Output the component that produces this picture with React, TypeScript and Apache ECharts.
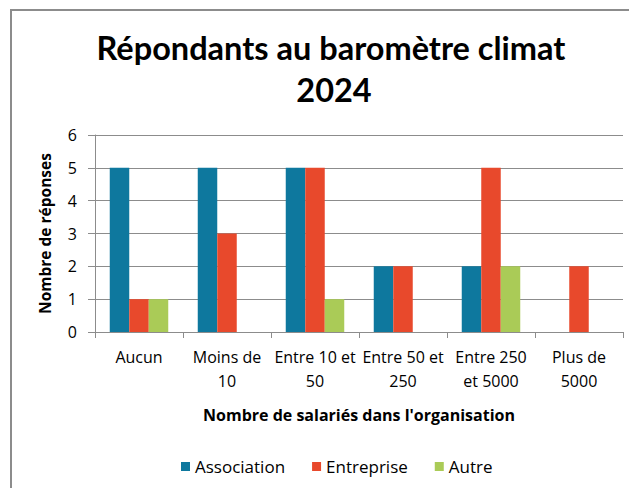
import React, { useEffect, useRef } from "react";
import * as echarts from "echarts";

const categories = ["Aucun", "Moins de 10", "Entre 10 et 50", "Entre 50 et 250", "Entre 250 et 5000", "Plus de 5000"];
const categoryLabels = ["Aucun", "Moins de\n10", "Entre 10 et\n50", "Entre 50 et\n250", "Entre 250\net 5000", "Plus de\n5000"];
const association = [5, 5, 5, 2, 2, 0];
const entreprise = [1, 3, 5, 2, 5, 2];
const autre = [1, 0, 1, 0, 2, 0];
const yTicks = [0, 1, 2, 3, 4, 5, 6];

const FONT = "'Open Sans', Lato, sans-serif";
const TFONT = "Lato, 'Open Sans', sans-serif";

export default function App() {
  const ref = useRef<HTMLDivElement>(null);
  useEffect(() => {
    if (!ref.current) return;
    const chart = echarts.init(ref.current, null, { renderer: "svg" });
    const mk = (name: string, data: number[], color: string) => ({
      name,
      type: "bar",
      data,
      barWidth: 19.5,
      barGap: "0%",
      itemStyle: { color },
    });
    chart.setOption({
      animation: false,
      backgroundColor: "#ffffff",
      textStyle: { fontFamily: FONT },
      title: [
        {
          text: "Répondants au baromètre climat",
          left: 326,
          textAlign: "center",
          top: 26,
          textStyle: { fontFamily: TFONT, fontSize: 32.5, fontWeight: "bold", color: "#000" },
        },
        {
          text: "2024",
          left: 329,
          textAlign: "center",
          top: 68,
          textStyle: { fontFamily: TFONT, fontSize: 32.5, fontWeight: "bold", color: "#000" },
        },
      ],
      graphic: [
        {
          type: "rect",
          shape: { x: 11, y: 10, width: 700, height: 600 },
          style: { fill: "none", stroke: "#8c8c8c", lineWidth: 2 },
          silent: true,
        },
      ],
      legend: {
        top: 453,
        left: 176,
        itemWidth: 9,
        itemHeight: 9,
        itemGap: 27,
        icon: "rect",
        textStyle: { fontFamily: FONT, fontSize: 17, color: "#000" },
        data: ["Association", "Entreprise", "Autre"],
      },
      grid: { left: 95, top: 135, width: 528, height: 197, containLabel: false },
      xAxis: {
        type: "category",
        data: categories,
        name: "Nombre de salariés dans l'organisation",
        nameLocation: "middle",
        nameGap: 75,
        nameTextStyle: { fontFamily: FONT, fontSize: 16, fontWeight: "bold", color: "#000" },
        axisLine: { lineStyle: { color: "#8c8c8c", width: 1 } },
        axisTick: { show: true, alignWithLabel: false, length: 6, lineStyle: { color: "#8c8c8c" } },
        axisLabel: {
          interval: 0,
          margin: 13,
          fontFamily: FONT,
          fontSize: 16,
          lineHeight: 24,
          color: "#000",
          formatter: (_v: string, i: number) => categoryLabels[i],
        },
      },
      yAxis: {
        type: "value",
        min: yTicks[0],
        max: yTicks[yTicks.length - 1],
        interval: 1,
        name: "Nombre de réponses",
        nameLocation: "middle",
        nameGap: 42,
        nameRotate: 90,
        nameTextStyle: { fontFamily: FONT, fontSize: 15.5, fontWeight: "bold", color: "#000" },
        axisLine: { show: true, lineStyle: { color: "#8c8c8c", width: 1 } },
        axisTick: { show: true, length: 7, lineStyle: { color: "#8c8c8c" } },
        splitLine: { show: true, lineStyle: { color: "#8c8c8c", width: 1 } },
        axisLabel: { fontFamily: FONT, fontSize: 16, color: "#000", margin: 18 },
      },
      series: [
        mk("Association", association, "#0E789E"),
        mk("Entreprise", entreprise, "#E8492C"),
        mk("Autre", autre, "#AACB57"),
      ],
    });
    return () => chart.dispose();
  }, []);
  return (
    <div
      ref={ref}
      style={{ position: "fixed", left: 0, top: 0, width: 629, height: 488 }}
    />
  );
}
